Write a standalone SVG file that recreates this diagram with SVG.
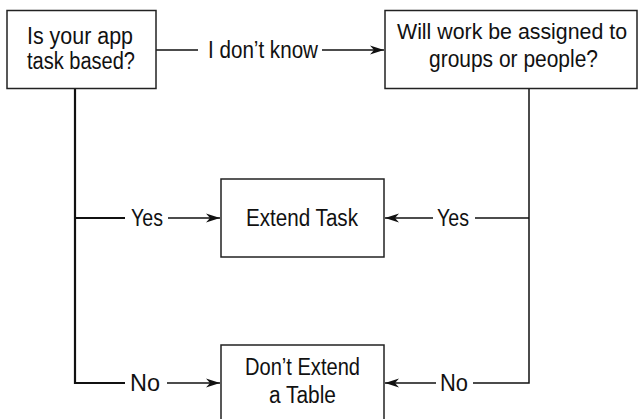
<svg xmlns="http://www.w3.org/2000/svg" width="640" height="419" viewBox="0 0 640 419">
<defs>
<style>
.box{fill:#fff;stroke:#222;stroke-width:1.5}
.t{font-family:"Liberation Sans",Arial,sans-serif;font-size:23px;fill:#111}
.l{font-family:"Liberation Sans",Arial,sans-serif;font-size:23px;fill:#111}
.c{fill:none;stroke:#111;stroke-width:1.5}
.c2{fill:none;stroke:#111;stroke-width:2.2}
</style>
<marker id="ah" markerUnits="userSpaceOnUse" markerWidth="15" markerHeight="11" refX="14" refY="5" orient="auto">
<path d="M0,0.5 L14,5 L0,9.5 L4,5 z" fill="#111"/>
</marker>
</defs>
<rect width="640" height="419" fill="#fff"/>
<g id="connectors">
<path class="c" d="M156,50 H198"/>
<path class="c" d="M322,50 H384" marker-end="url(#ah)"/>
<text class="l" x="208" y="58" textLength="110" lengthAdjust="spacingAndGlyphs">I don’t know</text>
<path class="c2" d="M75,88 V383 H125"/>
<path class="c2" d="M75,218 H125"/>
<path class="c" d="M168,218 H220" marker-end="url(#ah)"/>
<text class="l" x="131" y="226" textLength="32" lengthAdjust="spacingAndGlyphs">Yes</text>
<path class="c" d="M167,383 H220" marker-end="url(#ah)"/>
<text class="l" x="130" y="391" textLength="30" lengthAdjust="spacingAndGlyphs">No</text>
<path class="c" d="M529,88 V383 H473"/>
<path class="c" d="M529,218 H475"/>
<path class="c" d="M433,218 H385" marker-end="url(#ah)"/>
<text class="l" x="437" y="226" textLength="32" lengthAdjust="spacingAndGlyphs">Yes</text>
<path class="c" d="M436,383 H385" marker-end="url(#ah)"/>
<text class="l" x="440" y="391" textLength="28" lengthAdjust="spacingAndGlyphs">No</text>
</g>
<g id="n1">
<rect class="box" x="7" y="10.5" width="149" height="78"/>
<text class="t" x="27" y="44" textLength="106" lengthAdjust="spacingAndGlyphs">Is your app</text>
<text class="t" x="27" y="69" textLength="108" lengthAdjust="spacingAndGlyphs">task based?</text>
</g>
<g id="n2">
<rect class="box" x="385" y="10.5" width="252" height="78"/>
<text class="t" x="397" y="39" style="font-size:22px" textLength="230" lengthAdjust="spacingAndGlyphs">Will work be assigned to</text>
<text class="t" x="429" y="67" textLength="169" lengthAdjust="spacingAndGlyphs">groups or people?</text>
</g>
<g id="n3">
<rect class="box" x="221" y="179" width="163" height="78"/>
<text class="t" x="246" y="226" textLength="112" lengthAdjust="spacingAndGlyphs">Extend Task</text>
</g>
<g id="n4">
<rect class="box" x="221" y="345" width="163" height="80"/>
<text class="t" x="245" y="375" textLength="115" lengthAdjust="spacingAndGlyphs">Don’t Extend</text>
<text class="t" x="269" y="403" textLength="67" lengthAdjust="spacingAndGlyphs">a Table</text>
</g>
</svg>
